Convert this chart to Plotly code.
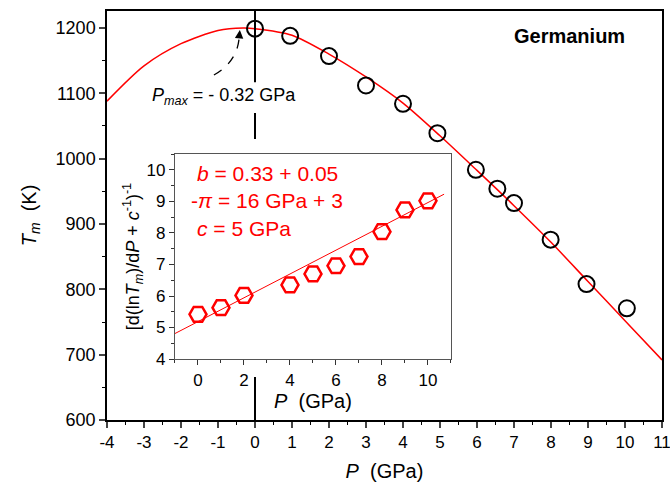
import plotly.graph_objects as go

# ---- main data (Germanium melting curve) ----
P_data = [0, 0.95, 2, 3, 4, 4.93, 5.97, 6.55, 7.0, 7.99, 8.96, 10.05]
Tm_data = [1199, 1188, 1157, 1112, 1084, 1039, 983, 954, 932, 876, 808, 771]

# fitted curve
P_fit = [-4, -3, -2, -1, -0.32, 0, 1, 2, 3, 4, 5, 6, 7, 8, 9, 10, 11]
Tm_fit = [1088, 1142, 1176, 1196, 1200, 1199, 1189, 1160, 1125, 1085, 1035, 982, 928, 872, 812, 752, 692]

# main x tick labels (hyphen minus as in the original)
x_tick_vals = [-4, -3, -2, -1, 0, 1, 2, 3, 4, 5, 6, 7, 8, 9, 10, 11]
x_tick_text = ["-4", "-3", "-2", "-1", "0", "1", "2", "3", "4", "5", "6", "7", "8", "9", "10", "11"]

# ---- inset data ----
P_in = [0, 1, 2, 4, 5, 6, 7, 8, 9, 10]
Y_in = [5.42, 5.63, 6.02, 6.35, 6.70, 6.96, 7.25, 8.04, 8.73, 9.02]
P_in_fit = [-1, 10.7]
Y_in_fit = [4.81, 9.23]

# reference line at P = 0 (visible pieces)
vline_segments = [(1117, 1226), (1030, 1070), (600, 666)]

FONT = "Arial"
RED = "#ff0000"

fig = go.Figure()

fig.add_trace(go.Scatter(x=P_fit, y=Tm_fit, mode="lines", line=dict(color=RED, width=1.5, shape="spline", smoothing=0.8),
                         showlegend=False, xaxis="x", yaxis="y"))
fig.add_trace(go.Scatter(x=P_data, y=Tm_data, mode="markers",
                         marker=dict(symbol="circle-open", size=16, color="black", line=dict(width=2, color="black")),
                         showlegend=False, xaxis="x", yaxis="y"))

fig.add_trace(go.Scatter(x=P_in_fit, y=Y_in_fit, mode="lines", line=dict(color=RED, width=1),
                         showlegend=False, xaxis="x2", yaxis="y2"))
fig.add_trace(go.Scatter(x=P_in, y=Y_in, mode="markers",
                         marker=dict(symbol="hexagon2-open", size=17, color=RED, line=dict(width=2.5, color=RED)),
                         showlegend=False, xaxis="x2", yaxis="y2"))

shapes = []
for y0, y1 in vline_segments:
    shapes.append(dict(type="line", xref="x", yref="y", x0=0, x1=0, y0=y0, y1=y1,
                       line=dict(color="black", width=2)))
# dashed curved arrow shaft
shapes.append(dict(type="path", xref="x", yref="y",
                   path="M -1.11,1128 Q -0.49,1148 -0.43,1184",
                   line=dict(color="black", width=1.3, dash="dash")))
fig.update_layout(shapes=shapes)

annotations = [
    dict(x=-0.41, y=1197, xref="x", yref="y", ax=-0.43, ay=1184, axref="x", ayref="y",
         text="", showarrow=True, arrowhead=2, arrowsize=1.2, arrowwidth=1.4, arrowcolor="black", standoff=0),
    dict(x=-2.85, y=1095, xref="x", yref="y", xanchor="left", yanchor="middle", showarrow=False,
         text="<i>P</i><sub><i>max</i></sub> = - 0.32 GPa", font=dict(family=FONT, size=18, color="black")),
    dict(x=0.834, y=0.939, xref="paper", yref="paper", xanchor="center", yanchor="middle", showarrow=False,
         text="<b>Germanium</b>", font=dict(family=FONT, size=20, color="black")),
    dict(x=-0.12, y=9.9, xref="x2", yref="y2", xanchor="left", yanchor="middle", showarrow=False,
         text="<i>b</i> = 0.33 + 0.05", font=dict(family=FONT, size=21, color=RED)),
    dict(x=-0.4, y=9.02, xref="x2", yref="y2", xanchor="left", yanchor="middle", showarrow=False,
         text="-<i>π</i> = 16 GPa + 3", font=dict(family=FONT, size=21, color=RED)),
    dict(x=-0.12, y=8.13, xref="x2", yref="y2", xanchor="left", yanchor="middle", showarrow=False,
         text="<i>c</i> = 5 GPa", font=dict(family=FONT, size=21, color=RED)),
]
fig.update_layout(annotations=annotations)

axis_common = dict(showgrid=False, zeroline=False, ticks="outside", mirror=True, showline=True, automargin=False)

fig.update_layout(
    width=670, height=483,
    margin=dict(l=107, r=8, t=11, b=63),
    paper_bgcolor="white", plot_bgcolor="white",
    font=dict(family=FONT, color="black"),
    xaxis=dict(**axis_common, range=[-4, 11], tickmode="array", tickvals=x_tick_vals, ticktext=x_tick_text,
               linecolor="black", linewidth=1.5, ticklabeloverflow="allow",
               ticklen=6, tickwidth=1.5, tickfont=dict(size=17),
               minor=dict(dtick=0.5, tick0=0, ticks="outside", ticklen=3, tickwidth=1.2, tickcolor="black"),
               title=dict(text="<i>P</i>  (GPa)", font=dict(size=20), standoff=13),
               domain=[0, 1], anchor="y"),
    yaxis=dict(**axis_common, range=[600, 1226], dtick=100, tick0=0, linecolor="black", linewidth=1.5,
               ticklen=6, tickwidth=1.5, tickfont=dict(size=18),
               minor=dict(dtick=50, ticks="outside", ticklen=3, tickwidth=1.2, tickcolor="black"),
               title=dict(text="<i>T</i><sub><i>m</i></sub>  (K)", font=dict(size=20), standoff=14),
               domain=[0, 1], anchor="x"),
    xaxis2=dict(**axis_common, range=[-1, 11], dtick=2, tick0=0, linecolor="#555555", linewidth=1.2,
                ticklen=5, tickwidth=1, tickcolor="#333333", tickfont=dict(size=17),
                minor=dict(dtick=1, ticks="outside", ticklen=3, tickwidth=1, tickcolor="#333333"),
                title=dict(text="<i>P</i>  (GPa)", font=dict(size=20), standoff=2),
                domain=[0.1225, 0.6198], anchor="y2"),
    yaxis2=dict(**axis_common, range=[4, 10.5], dtick=1, tick0=0, linecolor="#555555", linewidth=1.2,
                ticklen=5, tickwidth=1, tickcolor="#333333", tickfont=dict(size=17),
                minor=dict(dtick=0.5, ticks="outside", ticklen=3, tickwidth=1, tickcolor="#333333"),
                title=dict(text="[d(ln<i>T</i><sub><i>m</i></sub>)/d<i>P</i> + <i>c</i><sup>-1</sup>)<sup>-1</sup>",
                           font=dict(size=18), standoff=2),
                domain=[0.149, 0.650], anchor="x2"),
)

fig.write_html("out.html", config={"displayModeBar": False},
               post_script="document.body.style.margin='0px';")
